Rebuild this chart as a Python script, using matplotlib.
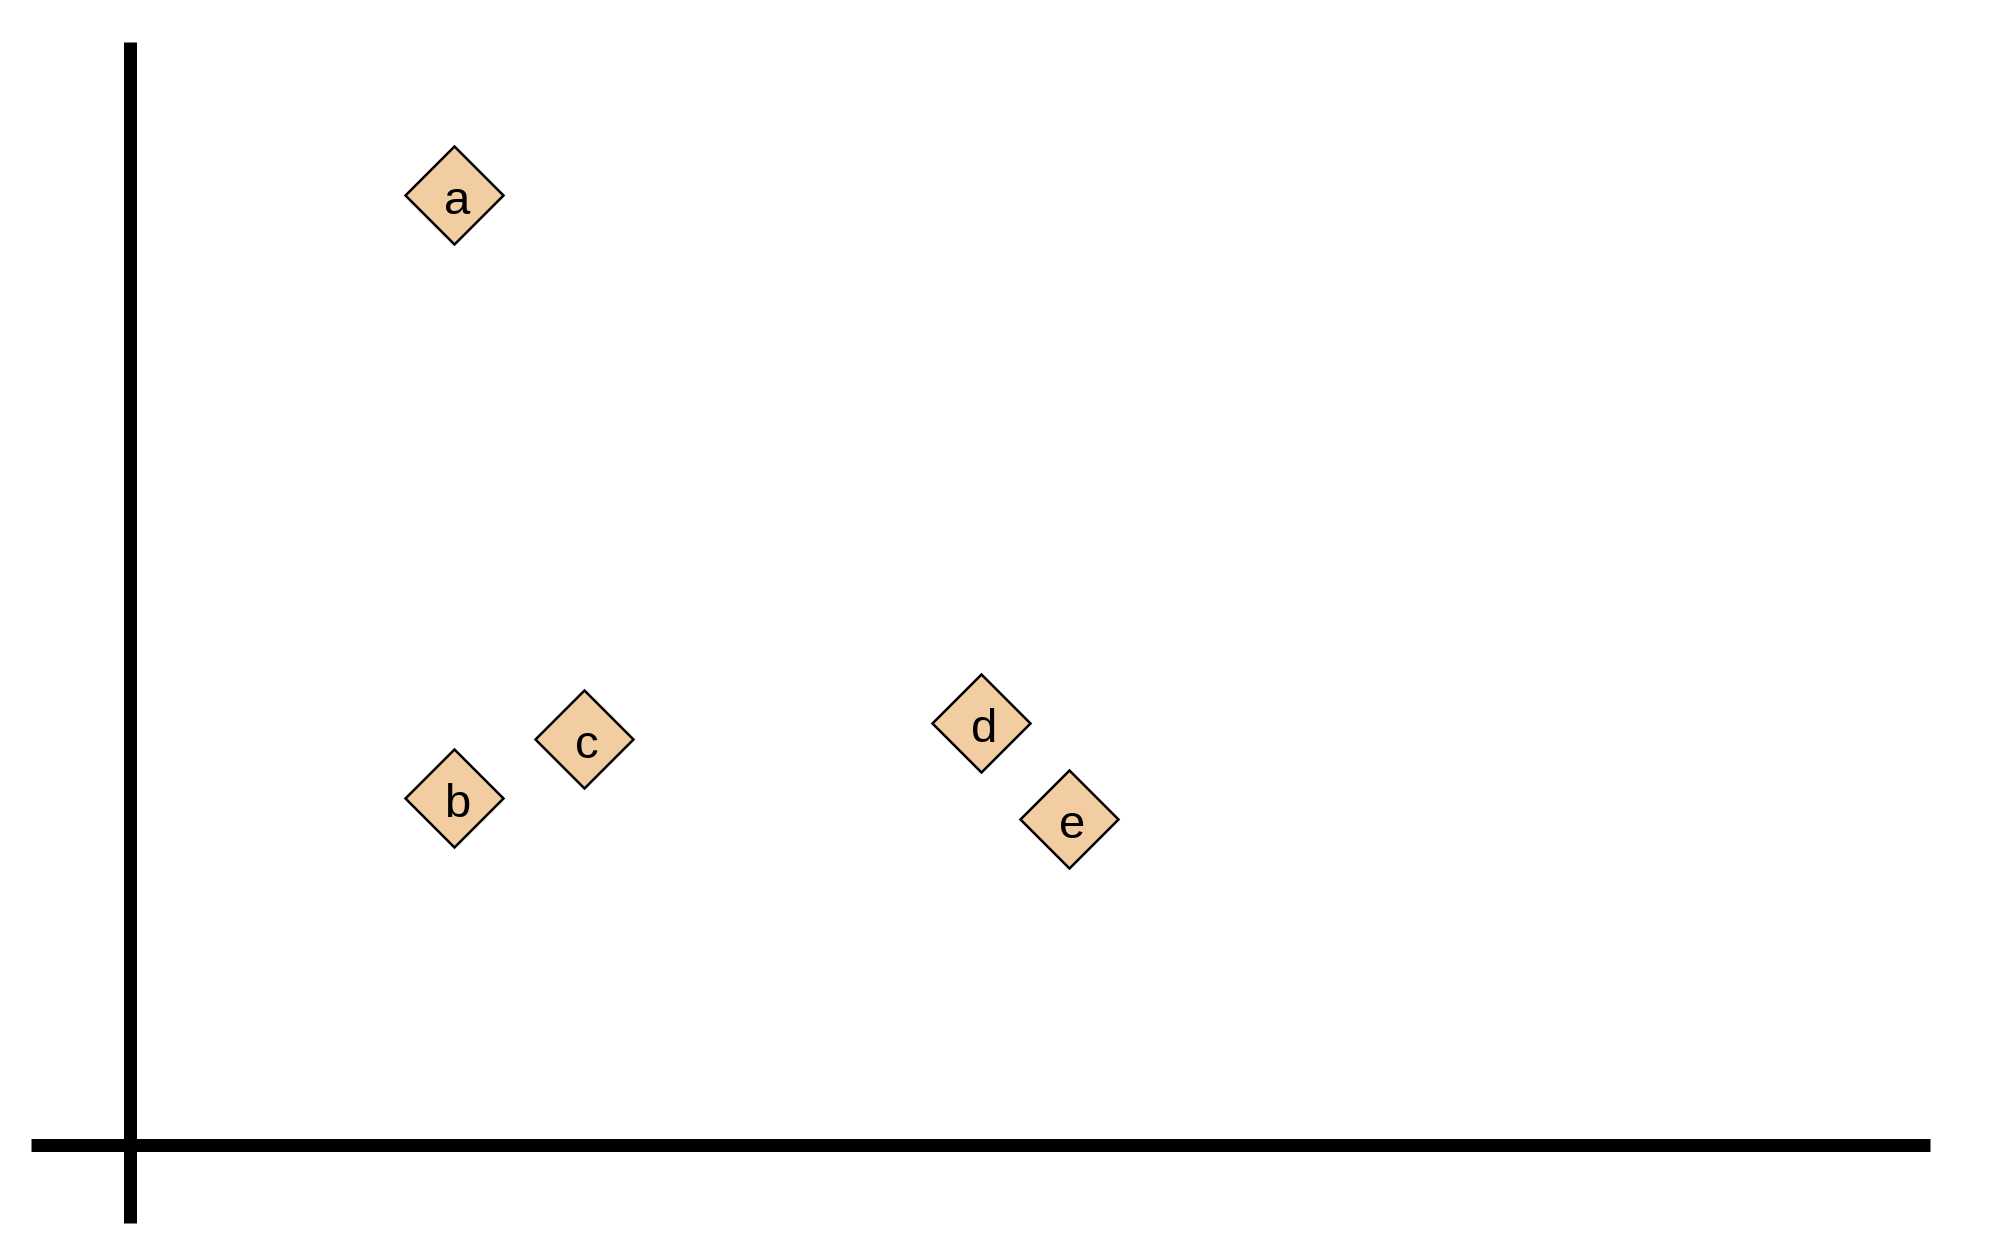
import matplotlib
matplotlib.use("Agg")
import matplotlib.pyplot as plt

labels = ["a", "b", "c", "d", "e"]
xs = [3.24, 3.24, 4.54, 8.51, 9.39]
ys = [9.50, 3.47, 4.06, 4.22, 3.26]

fig = plt.figure(figsize=(10.06, 6.22), dpi=200)
ax = fig.add_axes([0, 0, 1, 1])
ax.set_xlim(-1.30, 18.82)
ax.set_ylim(-0.993, 11.447)
ax.axis("off")

lw = 13 / 200 * 72
ax.plot([-0.99, 18.0], [0, 0], color="black", lw=lw, solid_capstyle="butt")
ax.plot([0, 0], [-0.78, 11.03], color="black", lw=lw, solid_capstyle="butt")

ax.plot(xs, ys, linestyle="none", marker="D", markersize=24.8,
        markerfacecolor="#F2CDA1", markeredgecolor="black", markeredgewidth=0.9)
for lab, x, y in zip(labels, xs, ys):
    ax.annotate(lab, (x, y), xytext=(1, -2.5), textcoords="offset points",
                ha="center", va="center", fontsize=17,
                family="Liberation Sans", color="black")

fig.savefig("out.png", dpi=200)
